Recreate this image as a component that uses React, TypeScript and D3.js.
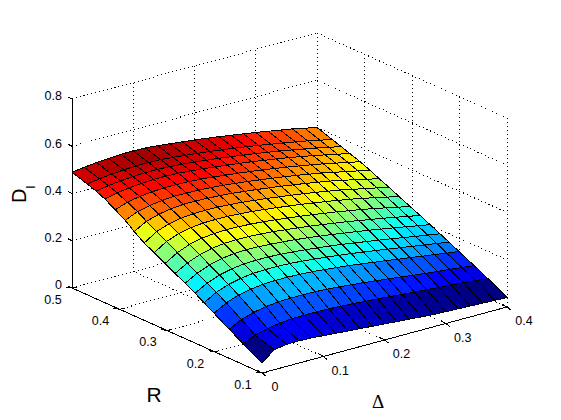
import React from 'react';
import * as d3 from 'd3';

// R grid is not evenly spaced in the picture, read from the mesh edge
const rValues = [0.5, 0.468, 0.449, 0.431, 0.409, 0.388, 0.369, 0.348, 0.327, 0.304, 0.283, 0.262, 0.241, 0.222, 0.201, 0.169, 0.14, 0.1];
const deltaValues = [0, 0.02, 0.04, 0.06, 0.08, 0.1, 0.12, 0.14, 0.16, 0.18, 0.2, 0.22, 0.24, 0.26, 0.28, 0.3, 0.32, 0.34, 0.36, 0.38, 0.4];

// one row per R, one column per delta
const dValues = [
  [0.49, 0.497, 0.503, 0.507, 0.51, 0.511, 0.509, 0.505, 0.499, 0.493, 0.487, 0.48, 0.473, 0.465, 0.457, 0.449, 0.44, 0.431, 0.422, 0.411, 0.4],
  [0.469, 0.477, 0.483, 0.487, 0.49, 0.49, 0.488, 0.484, 0.479, 0.473, 0.467, 0.46, 0.453, 0.445, 0.437, 0.428, 0.419, 0.41, 0.4, 0.389, 0.378],
  [0.456, 0.465, 0.471, 0.475, 0.478, 0.478, 0.476, 0.472, 0.467, 0.461, 0.455, 0.448, 0.441, 0.433, 0.425, 0.416, 0.407, 0.397, 0.387, 0.376, 0.365],
  [0.439, 0.451, 0.458, 0.463, 0.466, 0.466, 0.464, 0.46, 0.455, 0.449, 0.443, 0.436, 0.429, 0.421, 0.413, 0.404, 0.395, 0.385, 0.374, 0.363, 0.352],
  [0.413, 0.431, 0.441, 0.447, 0.45, 0.45, 0.448, 0.445, 0.44, 0.434, 0.428, 0.421, 0.414, 0.406, 0.398, 0.389, 0.38, 0.37, 0.359, 0.348, 0.337],
  [0.387, 0.41, 0.422, 0.429, 0.433, 0.433, 0.431, 0.428, 0.424, 0.418, 0.412, 0.405, 0.398, 0.39, 0.382, 0.373, 0.364, 0.353, 0.342, 0.331, 0.319],
  [0.357, 0.386, 0.402, 0.411, 0.416, 0.416, 0.414, 0.411, 0.407, 0.401, 0.395, 0.388, 0.381, 0.373, 0.365, 0.356, 0.347, 0.336, 0.325, 0.313, 0.301],
  [0.327, 0.361, 0.38, 0.39, 0.395, 0.396, 0.395, 0.392, 0.388, 0.382, 0.376, 0.369, 0.362, 0.354, 0.346, 0.337, 0.328, 0.317, 0.306, 0.295, 0.283],
  [0.305, 0.338, 0.358, 0.369, 0.375, 0.376, 0.375, 0.372, 0.368, 0.362, 0.356, 0.349, 0.342, 0.334, 0.326, 0.317, 0.308, 0.298, 0.286, 0.275, 0.263],
  [0.28, 0.312, 0.333, 0.345, 0.351, 0.353, 0.352, 0.349, 0.345, 0.339, 0.333, 0.326, 0.319, 0.311, 0.303, 0.294, 0.285, 0.275, 0.264, 0.253, 0.242],
  [0.257, 0.287, 0.308, 0.321, 0.328, 0.33, 0.329, 0.326, 0.322, 0.316, 0.31, 0.303, 0.296, 0.288, 0.28, 0.271, 0.262, 0.253, 0.243, 0.233, 0.223],
  [0.234, 0.263, 0.284, 0.297, 0.304, 0.306, 0.305, 0.302, 0.298, 0.293, 0.287, 0.28, 0.273, 0.265, 0.257, 0.249, 0.24, 0.231, 0.222, 0.212, 0.203],
  [0.211, 0.24, 0.26, 0.272, 0.279, 0.281, 0.281, 0.278, 0.274, 0.269, 0.263, 0.257, 0.25, 0.242, 0.234, 0.226, 0.218, 0.209, 0.2, 0.192, 0.183],
  [0.188, 0.218, 0.237, 0.249, 0.256, 0.258, 0.258, 0.256, 0.252, 0.247, 0.241, 0.235, 0.228, 0.221, 0.213, 0.205, 0.197, 0.189, 0.181, 0.173, 0.165],
  [0.162, 0.192, 0.211, 0.222, 0.229, 0.231, 0.231, 0.229, 0.226, 0.221, 0.216, 0.21, 0.203, 0.196, 0.189, 0.181, 0.174, 0.166, 0.159, 0.151, 0.144],
  [0.123, 0.15, 0.167, 0.177, 0.183, 0.185, 0.185, 0.184, 0.181, 0.177, 0.172, 0.167, 0.161, 0.155, 0.149, 0.142, 0.136, 0.13, 0.125, 0.119, 0.113],
  [0.088, 0.11, 0.124, 0.133, 0.138, 0.139, 0.139, 0.138, 0.135, 0.132, 0.128, 0.124, 0.12, 0.115, 0.111, 0.107, 0.103, 0.099, 0.095, 0.09, 0.084],
  [0.042, 0.085, 0.093, 0.094, 0.092, 0.088, 0.084, 0.08, 0.076, 0.072, 0.068, 0.064, 0.06, 0.056, 0.052, 0.05, 0.048, 0.046, 0.044, 0.042, 0.04],
];

const rTicks = [0.1, 0.2, 0.3, 0.4, 0.5];
const deltaTicks = [0, 0.1, 0.2, 0.3, 0.4];
const zTicks = [0, 0.2, 0.4, 0.6, 0.8];

const originX = 262;
const originY = 373;

// orthographic view: each data axis moves the point along a fixed screen direction
const rToX = d3.scaleLinear().domain([0.1, 0.5]).range([0, -190]);
const rToY = d3.scaleLinear().domain([0.1, 0.5]).range([0, -85]);
const deltaToX = d3.scaleLinear().domain([0, 0.4]).range([0, 245]);
const deltaToY = d3.scaleLinear().domain([0, 0.4]).range([0, -66]);
const zToY = d3.scaleLinear().domain([0, 0.8]).range([0, -189]);

const project = (r: number, delta: number, z: number): [number, number] => [
  originX + rToX(r) + deltaToX(delta),
  originY + rToY(r) + deltaToY(delta) + zToY(z),
];

const flatD = dValues.flat();
const colorPos = d3.scaleLinear().domain([d3.min(flatD) as number, d3.max(flatD) as number]).range([0, 1]);
const jet = d3.scaleLinear<string>()
  .domain([0, 0.125, 0.375, 0.625, 0.875, 1])
  .range(['#000080', '#0000ff', '#00ffff', '#ffff00', '#ff0000', '#800000']);
const faceColor = (z: number) => jet(Math.min(63, Math.floor(colorPos(z) * 64)) / 63);

const pathOf = d3.line();
const seg = (a: [number, number], b: [number, number]) => pathOf([a, b]) as string;

const rMax = 0.5;
const rMin = 0.1;
const dMax = 0.4;
const zMax = 0.8;

const fmt = (v: number) => (v === 0 ? '0' : String(v));

export default function App() {
  const gridLines: string[] = [];
  zTicks.forEach(z => {
    if (z > 0) {
      gridLines.push(seg(project(rMax, 0, z), project(rMax, dMax, z)));
      gridLines.push(seg(project(rMax, dMax, z), project(rMin, dMax, z)));
    }
  });
  deltaTicks.forEach(d => {
    if (d > 0) gridLines.push(seg(project(rMax, d, 0), project(rMax, d, zMax)));
    if (d > 0) gridLines.push(seg(project(rMin, d, 0), project(rMax, d, 0)));
  });
  rTicks.forEach(r => {
    if (r < rMax) gridLines.push(seg(project(r, dMax, 0), project(r, dMax, zMax)));
    if (r > rMin) gridLines.push(seg(project(r, 0, 0), project(r, dMax, 0)));
  });
  gridLines.push(seg(project(rMax, 0, 0), project(rMax, dMax, 0)));
  gridLines.push(seg(project(rMax, dMax, 0), project(rMin, dMax, 0)));

  // back to front: rows start at the far R, columns drawn from far delta
  const faces: { d: string; fill: string }[] = [];
  for (let i = 0; i < rValues.length - 1; i++) {
    for (let j = deltaValues.length - 2; j >= 0; j--) {
      const pts: [number, number][] = [
        project(rValues[i], deltaValues[j], dValues[i][j]),
        project(rValues[i], deltaValues[j + 1], dValues[i][j + 1]),
        project(rValues[i + 1], deltaValues[j + 1], dValues[i + 1][j + 1]),
        project(rValues[i + 1], deltaValues[j], dValues[i + 1][j]),
      ];
      faces.push({ d: (pathOf(pts) as string) + 'Z', fill: faceColor(dValues[i + 1][j]) });
    }
  }

  const textStyle = { fontFamily: '"Liberation Sans", Arial, sans-serif', fill: '#000' };

  return (
    <svg width={561} height={420} style={{ position: 'absolute', left: 0, top: 0, background: '#fff' }}>
      <g fill="none" stroke="#000" strokeWidth={1} strokeDasharray="1 3" shapeRendering="crispEdges">
        {gridLines.map((d, i) => <path key={i} d={d} />)}
      </g>

      <g fill="none" stroke="#000" strokeWidth={1} shapeRendering="crispEdges">
        <path d={seg(project(rMax, 0, 0), project(rMax, 0, zMax))} />
        <path d={seg(project(rMax, 0, 0), project(rMin, 0, 0))} />
        <path d={seg(project(rMin, 0, 0), project(rMin, dMax, 0))} />
        {zTicks.map(z => {
          const [x, y] = project(rMax, 0, z);
          return <path key={z} d={seg([x, y], [x - 4, y - 2])} />;
        })}
        {rTicks.map(r => {
          const [x, y] = project(r, 0, 0);
          return <path key={r} d={seg([x, y], [x - 6, y - 1])} />;
        })}
        {rTicks.map(r => {
          const [x, y] = project(r, 0, 0);
          return <path key={r} d={seg([x, y], [x + 5, y - 1])} />;
        })}
        {deltaTicks.map(d => {
          const [x, y] = project(rMin, d, 0);
          return <path key={d} d={seg([x, y], [x - 5, y - 3])} />;
        })}
        {deltaTicks.map(d => {
          const [x, y] = project(rMin, d, 0);
          return <path key={d} d={seg([x, y], [x + 4, y + 3])} />;
        })}
      </g>

      <g stroke="#000" strokeWidth={1} shapeRendering="crispEdges">
        {faces.map((f, i) => <path key={i} d={f.d} fill={f.fill} />)}
      </g>

      <g {...textStyle} fontSize={12.5}>
        {zTicks.map(z => {
          const [x, y] = project(rMax, 0, z);
          return <text key={z} x={x - 10} y={y - 3} dy="0.35em" textAnchor="end">{fmt(z)}</text>;
        })}
        {rTicks.map(r => {
          const [x, y] = project(r, 0, 0);
          return <text key={r} x={x - 19} y={y + 11.5} dy="0.35em" textAnchor="middle">{fmt(r)}</text>;
        })}
        {deltaTicks.map(d => {
          const [x, y] = project(rMin, d, 0);
          return <text key={d} x={d === 0 ? x + 13 : x + 17} y={y + 14} dy="0.35em" textAnchor="middle">{fmt(d)}</text>;
        })}
      </g>

      <g {...textStyle}>
        <text transform="translate(26,203) rotate(-90)" fontSize={20}>
          D<tspan fontSize={12.5} dy={9}>l</tspan>
        </text>
        <text x={154} y={402} fontSize={21} textAnchor="middle">R</text>
        <text x={378} y={408} fontSize={19} textAnchor="middle" fontFamily='"Liberation Serif", serif'>Δ</text>
      </g>
    </svg>
  );
}
